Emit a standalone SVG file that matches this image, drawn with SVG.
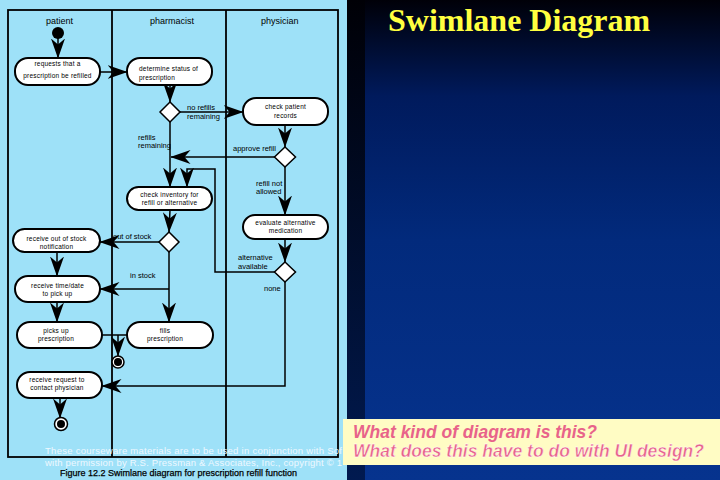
<svg xmlns="http://www.w3.org/2000/svg" width="720" height="480" viewBox="0 0 720 480">
<defs>
<linearGradient id="bg" x1="0" y1="0" x2="0" y2="1">
<stop offset="0" stop-color="#000008"/>
<stop offset="0.2" stop-color="#001a5c"/>
<stop offset="0.5" stop-color="#022a7c"/>
<stop offset="1" stop-color="#06338e"/>
</linearGradient>
<linearGradient id="strip" x1="0" y1="0" x2="0" y2="1">
<stop offset="0" stop-color="#000006"/>
<stop offset="1" stop-color="#011a50"/>
</linearGradient>
<marker id="ah" markerUnits="userSpaceOnUse" viewBox="0 0 20 14" markerWidth="20" markerHeight="14" refX="19.5" refY="7" orient="auto">
<path d="M0,0 L20,7 L0,14 L6,7 Z" fill="#000"/>
</marker>
<style>
.node rect{fill:#fff;stroke:#000;stroke-width:2}
.dia{fill:#fff;stroke:#000;stroke-width:1.5}
.t{font-family:'Liberation Sans',Arial,sans-serif;font-size:6.5px;fill:#000;text-anchor:middle;letter-spacing:0.2px}
.tl{text-anchor:start}
.lbl{font-family:'Liberation Sans',Arial,sans-serif;font-size:7.5px;fill:#000}
.hdr{font-family:'Liberation Sans',Arial,sans-serif;font-size:9px;fill:#000}
.edge{fill:none;stroke:#000;stroke-width:1.5}
.arr{marker-end:url(#ah)}
.lane{fill:none;stroke:#000;stroke-width:1.8}
.foot{font-family:'Liberation Sans',Arial,sans-serif;font-size:9.5px;fill:#eef8ff}
.q{font-family:'Liberation Sans',Arial,sans-serif;font-size:17.5px;font-weight:bold;font-style:italic;fill:#e8638a}
</style>
</defs>
<rect x="0" y="0" width="720" height="480" fill="url(#bg)"/>
<rect x="347" y="0" width="18" height="480" fill="url(#strip)"/>
<rect x="0" y="0" width="347" height="480" fill="#9ee1f8"/>
<text x="388" y="31" font-family="'Liberation Serif','Times New Roman',serif" font-size="32" font-weight="bold" fill="#ffff40">Swimlane Diagram</text>

<g id="lanes">
<rect class="lane" x="8" y="10" width="330" height="447"/>
<line class="lane" x1="112" y1="10" x2="112" y2="457"/>
<line class="lane" x1="226" y1="10" x2="226" y2="457"/>
<text class="hdr" x="46" y="24">patient</text>
<text class="hdr" x="150" y="24">pharmacist</text>
<text class="hdr" x="261" y="24">physician</text>
</g>

<g id="connectors">
<line class="edge arr" x1="58" y1="38" x2="58" y2="58"/>
<line class="edge arr" x1="100" y1="72" x2="127" y2="72"/>
<line class="edge arr" x1="170" y1="85" x2="170" y2="102"/>
<line class="edge arr" x1="180" y1="112" x2="243" y2="112"/>
<line class="edge arr" x1="170" y1="122" x2="170" y2="187"/>
<line class="edge arr" x1="285" y1="125" x2="285" y2="147"/>
<line class="edge arr" x1="275" y1="157" x2="171" y2="157"/>
<line class="edge arr" x1="285" y1="167" x2="285" y2="215"/>
<line class="edge arr" x1="285" y1="239" x2="285" y2="262"/>
<polyline class="edge arr" points="275,272 215,272 215,169 187,169 187,187"/>
<polyline class="edge arr" points="285,282 285,386 102,386"/>
<line class="edge arr" x1="170" y1="210" x2="169" y2="232"/>
<text class="lbl" x="113" y="238.5">out of stock</text>
<line class="edge arr" x1="159" y1="242" x2="100" y2="242"/>
<line class="edge arr" x1="169" y1="252" x2="169" y2="322"/>
<line class="edge arr" x1="169" y1="289" x2="100" y2="289"/>
<line class="edge arr" x1="57" y1="252" x2="57" y2="276"/>
<line class="edge arr" x1="57" y1="302" x2="57" y2="322"/>
<line class="edge" x1="102" y1="335" x2="127" y2="335"/>
<line class="edge arr" x1="118" y1="335" x2="118" y2="356"/>
<line class="edge arr" x1="60" y1="398" x2="60" y2="418"/>
<text class="lbl" x="187" y="110">no refills</text>
<text class="lbl" x="187" y="118.5">remaining</text>
<text class="lbl" x="138" y="139.5">refills</text>
<text class="lbl" x="138" y="147.5">remaining</text>
<text class="lbl" x="233" y="150.5">approve refill</text>
<text class="lbl" x="256" y="185.5">refill not</text>
<text class="lbl" x="256" y="193.5">allowed</text>
<text class="lbl" x="238" y="259.5">alternative</text>
<text class="lbl" x="238" y="268.5">available</text>
<text class="lbl" x="264" y="290.5">none</text>
<text class="lbl" x="130" y="277.5">in stock</text>
</g>

<g id="start"><circle cx="58" cy="33" r="6" fill="#000"/></g>

<g id="n1" class="node"><rect x="15" y="58" width="85" height="27" rx="13"/>
<text class="t" x="57.5" y="66">requests that a</text>
<text class="t" x="57.5" y="78">prescription be refilled</text></g>

<g id="n2" class="node"><rect x="127" y="58" width="85" height="27" rx="13"/>
<text class="t tl" x="139" y="71">determine status of</text>
<text class="t tl" x="139" y="80">prescription</text></g>

<g id="d1"><polygon class="dia" points="170,102 180,112 170,122 160,112"/></g>

<g id="n3" class="node"><rect x="243" y="98" width="85" height="27" rx="13"/>
<text class="t" x="285.5" y="109">check patient</text>
<text class="t" x="285.5" y="118">records</text></g>

<g id="d2"><polygon class="dia" points="285,147 295.5,157 285,167 274.5,157"/></g>

<g id="n4" class="node"><rect x="127" y="187" width="85" height="23" rx="11.5"/>
<text class="t" x="169.5" y="196.5">check inventory for</text>
<text class="t" x="169.5" y="204.5">refill or alternative</text></g>

<g id="n5" class="node"><rect x="243" y="215" width="85" height="24" rx="12"/>
<text class="t" x="285.5" y="224.5">evaluate alternative</text>
<text class="t" x="285.5" y="232.5">medication</text></g>

<g id="d3"><polygon class="dia" points="285,262 295.5,272 285,282 274.5,272"/></g>

<g id="d4"><polygon class="dia" points="169,232 179,242 169,252 159,242"/></g>

<g id="n6" class="node"><rect x="13" y="229" width="87" height="23" rx="11.5"/>
<text class="t" x="56.5" y="240.5">receive out of stock</text>
<text class="t" x="56.5" y="248.5">notification</text></g>

<g id="n7" class="node"><rect x="15" y="276" width="85" height="26" rx="13"/>
<text class="t" x="57.5" y="287.5">receive time/date</text>
<text class="t" x="57.5" y="295.5">to pick up</text></g>

<g id="n8" class="node"><rect x="127" y="322" width="86" height="26" rx="13"/>
<text class="t" x="165" y="332.5">fills</text>
<text class="t" x="165" y="340.5">prescription</text></g>

<g id="n9" class="node"><rect x="17" y="322" width="85" height="26" rx="13"/>
<text class="t" x="56" y="332.5">picks up</text>
<text class="t" x="56" y="340.5">prescription</text></g>

<g id="end1"><circle cx="118" cy="362" r="6" fill="#fff" stroke="#000" stroke-width="1.5"/><circle cx="118" cy="362" r="4" fill="#000"/></g>

<g id="n10" class="node"><rect x="17" y="372" width="85" height="26" rx="13"/>
<text class="t" x="57" y="381.5">receive request to</text>
<text class="t" x="57" y="389.5">contact physician</text></g>

<g id="end2"><circle cx="61" cy="424" r="6.5" fill="#fff" stroke="#000" stroke-width="1.5"/><circle cx="61" cy="424" r="4" fill="#000"/></g>

<text class="foot" x="45" y="454" textLength="297" lengthAdjust="spacing">These courseware materials are to be used in conjunction with Sof</text>
<text class="foot" x="45" y="466" textLength="297" lengthAdjust="spacing">with permission by R.S. Pressman &amp; Associates, Inc., copyright © 1</text>
<text x="60" y="476" font-family="'Liberation Sans',Arial,sans-serif" font-size="9" fill="#000" stroke="#000" stroke-width="0.25">Figure 12.2   Swimlane diagram for prescription refill function</text>

<rect x="343" y="419" width="377" height="46" fill="#fffcc4"/>
<text class="q" x="353" y="438">What kind of diagram is this?</text>
<text class="q" x="353" y="457" stroke="#ffffff" stroke-width="0.4">What does this have to do with UI design?</text>
</svg>
